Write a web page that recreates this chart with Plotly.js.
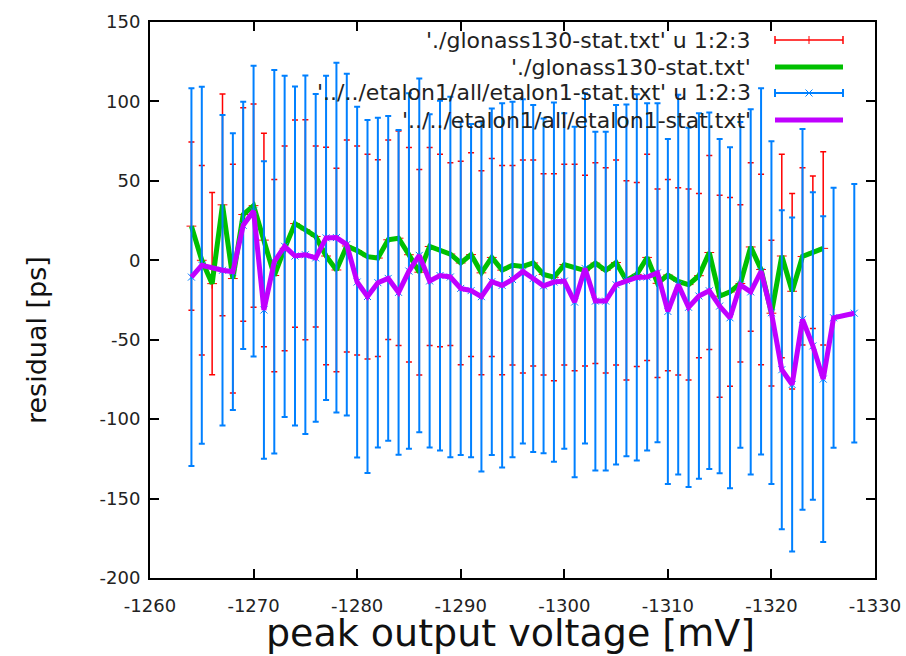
<!DOCTYPE html>
<html>
<head>
<meta charset="utf-8">
<script src="https://cdn.plot.ly/plotly-3.0.1.min.js"></script>
<style>html,body{margin:0;padding:0;background:#fff}#chart{width:906px;height:656px}</style>
</head>
<body>
<div id="chart"></div>
<script>
// glonass130 data: voltage [mV], residual [ps], error [ps]
const glonassX = [-1264,-1265,-1266,-1267,-1268,-1269,-1270,-1271,-1272,-1273,-1274,-1275,-1276,-1277,-1278,-1279,-1280,-1281,-1282,-1283,-1284,-1285,-1286,-1287,-1288,-1289,-1290,-1291,-1292,-1293,-1294,-1295,-1296,-1297,-1298,-1299,-1300,-1301,-1302,-1303,-1304,-1305,-1306,-1307,-1308,-1309,-1310,-1311,-1312,-1313,-1314,-1315,-1316,-1317,-1318,-1319,-1320,-1321,-1322,-1323,-1324,-1325];
const glonassY = [21.5,0,-14.7,34.9,-11.5,28.8,34.4,12.7,-9.6,7.5,23.1,19.2,15.0,2.7,-6.1,9.0,6.1,2.3,1.4,12.9,13.9,3.5,-7.5,8.7,6.2,3.9,-1.7,3.6,-7.9,1.8,-6.2,-3.1,-3.9,-1.7,-8.9,-10.7,-2.7,-4.5,-6.5,-1.8,-6.4,-1.4,-12.7,-8.9,1.8,-14.5,-9.3,-13.3,-15.3,-9.7,4.9,-22.6,-19.9,-14.6,8.4,-5.8,-33.3,2.7,-19.5,2.4,5.0,7.5];
const glonassErr = [53.0,59.7,57.4,69.8,72.0,67.2,64.0,67.2,60.5,64.4,65.2,69.2,57.0,68.5,64.1,66.7,65.8,64.5,61.9,62.8,67.5,67.5,64.7,62.3,60.6,57.5,64.1,64.1,64.2,62.3,65.9,62.8,67.1,64.9,63.3,65.1,63.2,65.0,60.1,63.2,64.6,64.5,62.7,57.9,64.9,59.3,60.2,58.9,60.1,51.7,61.0,63.6,59.4,49.5,53.0,60.0,45.9,64.1,61.5,55.8,48.0,60.9];

// etalon1 data
const etalonX = [-1264,-1265,-1267,-1268,-1269,-1270,-1271,-1272,-1273,-1274,-1275,-1276,-1277,-1278,-1279,-1280,-1281,-1282,-1283,-1284,-1285,-1286,-1287,-1288,-1289,-1290,-1291,-1292,-1293,-1294,-1295,-1296,-1297,-1298,-1299,-1300,-1301,-1302,-1303,-1304,-1305,-1306,-1307,-1308,-1309,-1310,-1311,-1312,-1313,-1314,-1315,-1316,-1317,-1318,-1319,-1320,-1321,-1322,-1323,-1324,-1325,-1326,-1328];
const etalonY = [-10.6,-3.1,-6.3,-7.2,22.0,31.0,-31.3,-0.9,8.8,2.7,3.5,1.5,14.1,14.3,9.9,-13.7,-22.8,-14.1,-11.4,-20.2,-6.8,3.1,-13.0,-9.6,-10.5,-17.7,-19.1,-22.9,-13.5,-15.8,-12.1,-7.0,-11.5,-16.1,-13.7,-13.1,-26.3,-5.1,-25.7,-25.7,-15.4,-12.7,-10.8,-10.5,-7.9,-32.2,-15.3,-29.6,-22.5,-19.2,-28.8,-36.2,-15.5,-19.9,-7.0,-33.0,-68.9,-78.2,-37.2,-53.9,-74.8,-36.2,-33.3];
const etalonErr = [118.9,112.4,97.7,87.1,77.8,91.5,93.7,120.7,107.4,106.7,112.8,103.1,102.1,110.1,107.6,110.4,111.1,103.8,102.2,102.2,111.9,111.4,104.9,110.1,113.5,104.9,104.9,110.1,109.1,114.6,111.9,108.3,109.2,105.4,113.1,105.6,110.3,110.2,106.6,106.6,113.1,110.7,115.3,109.3,106.7,108.6,119.5,113.1,115.0,112.2,105.2,107.3,102.5,114.9,115.3,107.9,100.4,105.1,119.9,96.8,102.5,81.8,81.4];

const xTicks = [-1260,-1270,-1280,-1290,-1300,-1310,-1320,-1330];
const yTicks = [-200,-150,-100,-50,0,50,100,150];
const legendLabels = ["'./glonass130-stat.txt' u 1:2:3", "'./glonass130-stat.txt'", "'../../etalon1/all/etalon1-stat.txt' u 1:2:3", "'../../etalon1/all/etalon1-stat.txt'"];

const RED = '#ff0000', GREEN = '#00c000', BLUE = '#0080ff', PURPLE = '#c000ff';
const FONT = 'DejaVu Sans';

const traces = [
  {x: glonassX, y: glonassY, mode: 'markers', type: 'scatter',
   marker: {symbol: 'cross-thin-open', size: 7, color: RED, line: {color: RED, width: 1}},
   error_y: {type: 'data', array: glonassErr, visible: true, color: RED, thickness: 1.5, width: 3}},
  {x: glonassX, y: glonassY, mode: 'lines', type: 'scatter', line: {color: GREEN, width: 5}},
  {x: etalonX, y: etalonY, mode: 'markers', type: 'scatter',
   marker: {symbol: 'x-thin-open', size: 7, color: BLUE, line: {color: BLUE, width: 1}},
   error_y: {type: 'data', array: etalonErr, visible: true, color: BLUE, thickness: 2, width: 3}},
  {x: etalonX, y: etalonY, mode: 'lines', type: 'scatter', line: {color: PURPLE, width: 5}}
];

// legend geometry (paper coords)
const L = 150, R = 875, T = 22, B = 578;
const px = v => (v - L) / (R - L);
const py = v => (B - v) / (B - T);
const rowsY = [40, 67, 93, 120];
const sx0 = px(775), sx1 = px(843), sxm = px(809), tx = px(753);
const colors = [RED, GREEN, BLUE, PURPLE];

const shapes = [];
const annotations = [];
rowsY.forEach((r, i) => {
  const yy = py(r);
  annotations.push({xref: 'paper', yref: 'paper', x: tx, y: yy, xanchor: 'right', yanchor: 'middle',
    text: legendLabels[i], showarrow: false, font: {family: FONT, size: 22, color: '#222'}});
  const thick = (i === 1 || i === 3);
  shapes.push({type: 'line', xref: 'paper', yref: 'paper', x0: sx0, x1: sx1, y0: yy, y1: yy,
    line: {color: colors[i], width: thick ? 5 : (i === 0 ? 1.5 : 2)}});
  if (!thick) {
    [sx0, sx1].forEach(xx => shapes.push({type: 'line', xref: 'paper', yref: 'paper',
      ysizemode: 'pixel', yanchor: yy, x0: xx, x1: xx, y0: -4, y1: 4, line: {color: colors[i], width: i === 0 ? 1.5 : 2}}));
    if (i === 0) {
      shapes.push({type: 'line', xref: 'paper', yref: 'paper', ysizemode: 'pixel', yanchor: yy,
        x0: sxm, x1: sxm, y0: -4, y1: 4, line: {color: RED, width: 1}});
    } else {
      shapes.push({type: 'line', xref: 'paper', yref: 'paper', xsizemode: 'pixel', ysizemode: 'pixel',
        xanchor: sxm, yanchor: yy, x0: -3.5, x1: 3.5, y0: -3.5, y1: 3.5, line: {color: BLUE, width: 1}});
      shapes.push({type: 'line', xref: 'paper', yref: 'paper', xsizemode: 'pixel', ysizemode: 'pixel',
        xanchor: sxm, yanchor: yy, x0: -3.5, x1: 3.5, y0: 3.5, y1: -3.5, line: {color: BLUE, width: 1}});
    }
  }
});

annotations.push({xref: 'paper', yref: 'paper', x: px(510), y: py(656), xanchor: 'center', yanchor: 'bottom',
  text: 'peak output voltage [mV]', showarrow: false, borderpad: 0, font: {family: FONT, size: 38, color: '#111'}});
annotations.push({xref: 'paper', yref: 'paper', x: px(36), y: py(340), xanchor: 'center', yanchor: 'middle',
  textangle: -90, text: 'residual [ps]', showarrow: false, font: {family: FONT, size: 27, color: '#111'}});

const axisCommon = {showline: true, linewidth: 2, linecolor: '#000', mirror: 'ticks', ticks: 'inside',
  ticklen: 9, tickwidth: 2, tickcolor: '#000', showgrid: false, zeroline: false,
  tickfont: {family: FONT, size: 18, color: '#222'}};

const layout = {
  width: 906, height: 656,
  margin: {l: L, r: 906 - R, t: T, b: 656 - B, pad: 0},
  paper_bgcolor: '#fff', plot_bgcolor: '#fff',
  showlegend: false,
  xaxis: Object.assign({}, axisCommon, {range: [-1260, -1330], tickmode: 'array', tickvals: xTicks,
    ticktext: xTicks.map(String), ticklabelstandoff: 10}),
  yaxis: Object.assign({}, axisCommon, {range: [-200, 150], tickmode: 'array', tickvals: yTicks,
    ticktext: yTicks.map(String), ticklabelstandoff: 4}),
  shapes: shapes,
  annotations: annotations
};

Plotly.newPlot('chart', traces, layout, {displayModeBar: false, staticPlot: true});
</script>
</body>
</html>
